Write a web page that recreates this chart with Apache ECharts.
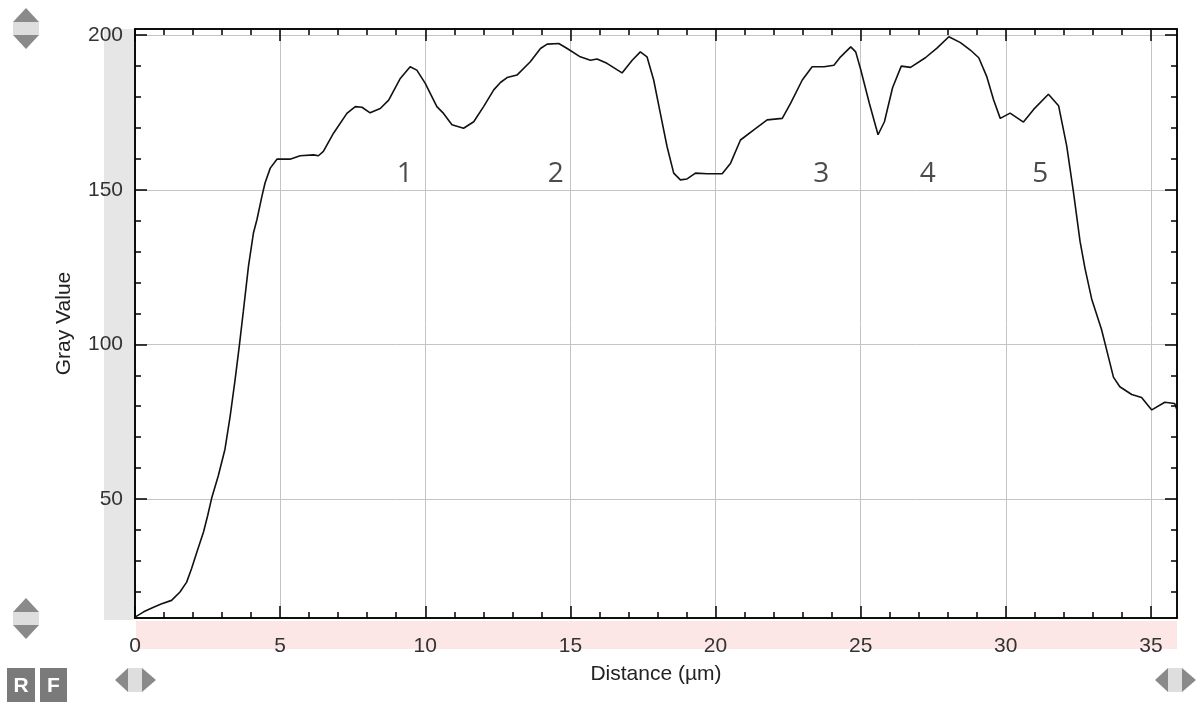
<!DOCTYPE html>
<html>
<head>
<meta charset="utf-8">
<script src="https://cdn.jsdelivr.net/npm/echarts@6/dist/echarts.min.js"></script>
<style>
  html, body { margin: 0; padding: 0; background: #fff; }
  #profile { width: 1198px; height: 702px; }
</style>
</head>
<body>
<div id="profile"></div>
<script>
// profile: distance (µm) and gray value
var distance = [
  0.0, 0.3, 0.6, 0.9, 1.26, 1.55, 1.78, 1.95, 2.13, 2.36, 2.5, 2.64, 2.87, 3.1, 3.28, 3.45,
  3.6, 3.73, 3.91, 4.08, 4.2, 4.37, 4.48, 4.66, 4.89, 5.34, 5.69, 6.15, 6.32, 6.49, 6.84,
  7.3, 7.59, 7.82, 8.1, 8.45, 8.74, 9.14, 9.48, 9.71, 10.0, 10.4, 10.63, 10.92, 11.32,
  11.67, 12.01, 12.36, 12.59, 12.82, 13.16, 13.62, 13.97, 14.2, 14.6, 14.89, 15.34, 15.69,
  15.92, 16.26, 16.78, 17.13, 17.41, 17.64, 17.87, 18.1, 18.33, 18.56, 18.79, 19.02, 19.31,
  19.71, 20.23, 20.52, 20.86, 21.32, 21.78, 22.3, 22.59, 22.99, 23.33, 23.74, 24.08, 24.31,
  24.66, 24.83, 25.0, 25.3, 25.6, 25.82, 26.1, 26.4, 26.72, 27.23, 27.63, 28.04, 28.44,
  28.78, 29.07, 29.35, 29.58, 29.81, 30.15, 30.61, 30.96, 31.47, 31.82, 32.1, 32.33, 32.56,
  32.73, 32.96, 33.3, 33.53, 33.71, 33.93, 34.34, 34.68, 35.03, 35.48, 35.82, 35.9
];
var grayValue = [
  11.8, 13.5, 14.8, 16, 17.2, 19.9, 23.1, 27.5, 32.8, 39.3, 44.5, 50.2, 57.5, 66.1, 76.9, 88.7,
  100, 110.5, 125.3, 136, 140.3, 147.8, 152.2, 157, 159.9, 159.9, 161, 161.3, 161, 162.4, 168.3,
  174.7, 176.9, 176.7, 174.9, 176.3, 179, 186, 189.8, 188.7, 184.4, 176.9, 174.7, 171, 169.9,
  172, 176.9, 182.3, 184.7, 186.3, 187.1, 191.4, 195.7, 197.1, 197.3, 195.7, 193, 191.9,
  192.3, 190.9, 187.8, 191.9, 194.6, 193, 185.5, 174.7, 164, 155.4, 153.2, 153.5, 155.4,
  155.2, 155.2, 158.6, 166.1, 169.4, 172.6, 173.1, 178, 185.5, 189.8, 189.8, 190.3, 193,
  196.2, 194.6, 189, 178, 167.8, 172, 183, 190, 189.6, 192.7, 195.8, 199.5, 197.6,
  195.2, 192.7, 186.5, 179.1, 173.1, 174.8, 171.9, 176, 180.9, 177.2, 164.2, 149.4, 133.3,
  124.6, 114.7, 104.8, 96.2, 89.4, 86.3, 83.8, 82.8, 78.8, 81.3, 80.9, 78.8
];

// numbered peak labels written on the plot
var peakNames = ['1', '2', '3', '4', '5'];
var peakX = [9.29, 14.5, 23.64, 27.31, 31.19];
var peakY = [155, 155, 155, 155, 155];

// ticks
var xMajorTicks = [0, 5, 10, 15, 20, 25, 30, 35];
var xMinorTicks = [];
for (var i = 1; i <= 35; i++) xMinorTicks.push(i);
var yMajorTicks = [50, 100, 150, 200];
var yMinorTicks = [20, 30, 40, 60, 70, 80, 90, 110, 120, 130, 140, 160, 170, 180, 190, 200];

var xMin = 0, xMax = 35.9, yMin = 11.5, yMax = 202;

var chart = echarts.init(document.getElementById('profile'));

var textFont = 'Liberation Sans';
var tickColor = '#000';
var gridRect = { left: 135, right: 21, top: 29, bottom: 84 };

function makeGrid() {
  return { left: gridRect.left, right: gridRect.right, top: gridRect.top, bottom: gridRect.bottom, show: false };
}

function xAxisOf(gridIndex, position, ticks, len, withLabels) {
  return {
    type: 'value', gridIndex: gridIndex, position: position,
    min: xMin, max: xMax, interval: 5,
    axisLine: { show: true, onZero: false, lineStyle: { color: '#000', width: 1.5 } },
    axisTick: { show: true, inside: true, length: len, customValues: ticks, lineStyle: { color: tickColor, width: 1.5 } },
    axisLabel: {
      show: withLabels, customValues: xMajorTicks,
      fontFamily: textFont, fontSize: 21, color: '#333', margin: 18
    },
    splitLine: { show: false }
  };
}

function yAxisOf(gridIndex, position, ticks, len, withLabels) {
  return {
    type: 'value', gridIndex: gridIndex, position: position,
    min: yMin, max: yMax, splitNumber: 4,
    axisLine: { show: true, onZero: false, lineStyle: { color: '#000', width: 1.5 } },
    axisTick: { show: true, inside: true, length: len, customValues: ticks, lineStyle: { color: tickColor, width: 1.5 } },
    axisLabel: {
      show: withLabels, customValues: yMajorTicks,
      fontFamily: textFont, fontSize: 21, color: '#333', margin: 12
    },
    splitLine: { show: false }
  };
}

var gridLine = { show: true, showMinLine: true, showMaxLine: true, lineStyle: { color: '#c4c4c4', width: 1 } };

var xMain = xAxisOf(0, 'bottom', xMajorTicks, 12, true);
xMain.splitLine = gridLine;
xMain.name = 'Distance (µm)';
xMain.nameLocation = 'middle';
xMain.nameGap = 46;
xMain.nameTextStyle = { fontFamily: textFont, fontSize: 21, color: '#222' };

var yMain = yAxisOf(0, 'left', yMajorTicks, 12, true);
yMain.splitLine = gridLine;
yMain.name = 'Gray Value';
yMain.nameLocation = 'middle';
yMain.nameGap = 60;
yMain.nameTextStyle = { fontFamily: textFont, fontSize: 21, color: '#222' };

// small arrow widgets around the plot
function upDown(y0) {
  return [
    { type: 'polygon', shape: { points: [[13, y0 + 22], [39, y0 + 22], [26, y0 + 8]] }, style: { fill: '#8a8a8a' } },
    { type: 'rect', shape: { x: 13, y: y0 + 22, width: 26, height: 13 }, style: { fill: '#dedede' } },
    { type: 'polygon', shape: { points: [[13, y0 + 35], [39, y0 + 35], [26, y0 + 49]] }, style: { fill: '#8a8a8a' } }
  ];
}
function leftRight(x0) {
  return [
    { type: 'polygon', shape: { points: [[x0 + 13, 668], [x0 + 13, 692], [x0, 680]] }, style: { fill: '#8a8a8a' } },
    { type: 'rect', shape: { x: x0 + 13, y: 668, width: 14, height: 24 }, style: { fill: '#dedede' } },
    { type: 'polygon', shape: { points: [[x0 + 27, 668], [x0 + 27, 692], [x0 + 41, 680]] }, style: { fill: '#8a8a8a' } }
  ];
}

var widgets = [
  { type: 'rect', z: -10, shape: { x: 104, y: 29, width: 30, height: 591 }, style: { fill: '#e6e6e6' } },
  { type: 'rect', z: -10, shape: { x: 136, y: 621, width: 1041, height: 28 }, style: { fill: '#fde6e6' } },
  { type: 'rect', shape: { x: 7, y: 668, width: 28, height: 34 }, style: { fill: '#7a7a7a' } },
  { type: 'rect', shape: { x: 40, y: 668, width: 27, height: 34 }, style: { fill: '#7a7a7a' } },
  { type: 'text', style: { x: 21, y: 686, text: 'R', fill: '#fff', font: 'bold 21px Liberation Sans', align: 'center', verticalAlign: 'middle' } },
  { type: 'text', style: { x: 53.5, y: 686, text: 'F', fill: '#fff', font: 'bold 21px Liberation Sans', align: 'center', verticalAlign: 'middle' } }
].concat(upDown(0), upDown(590), leftRight(115), leftRight(1155));

var option = {
  animation: false,
  backgroundColor: '#fff',
  grid: [makeGrid(), makeGrid(), makeGrid(), makeGrid()],
  xAxis: [
    xMain,
    xAxisOf(1, 'top', xMajorTicks, 12, false),
    xAxisOf(2, 'bottom', xMinorTicks, 6, false),
    xAxisOf(3, 'top', xMinorTicks, 6, false)
  ],
  yAxis: [
    yMain,
    yAxisOf(1, 'right', yMajorTicks, 12, false),
    yAxisOf(2, 'left', yMinorTicks, 6, false),
    yAxisOf(3, 'right', yMinorTicks, 6, false)
  ],
  graphic: widgets,
  series: [
    {
      type: 'line',
      xAxisIndex: 0, yAxisIndex: 0,
      data: distance.map(function(d, i) { return [d, grayValue[i]]; }),
      showSymbol: false,
      smooth: false,
      lineStyle: { color: '#111', width: 1.6 },
      z: 3
    },
    {
      type: 'scatter',
      xAxisIndex: 0, yAxisIndex: 0,
      symbolSize: 2,
      itemStyle: { color: 'rgba(0,0,0,0)' },
      data: peakNames.map(function(n, i) { return { name: n, value: [peakX[i], peakY[i]] }; }),
      label: {
        show: true, position: 'inside', formatter: '{b}',
        fontFamily: 'Open Sans', fontSize: 28, color: '#1e1e1e'
      },
      z: 4
    }
  ]
};

chart.setOption(option);
</script>
</body>
</html>
